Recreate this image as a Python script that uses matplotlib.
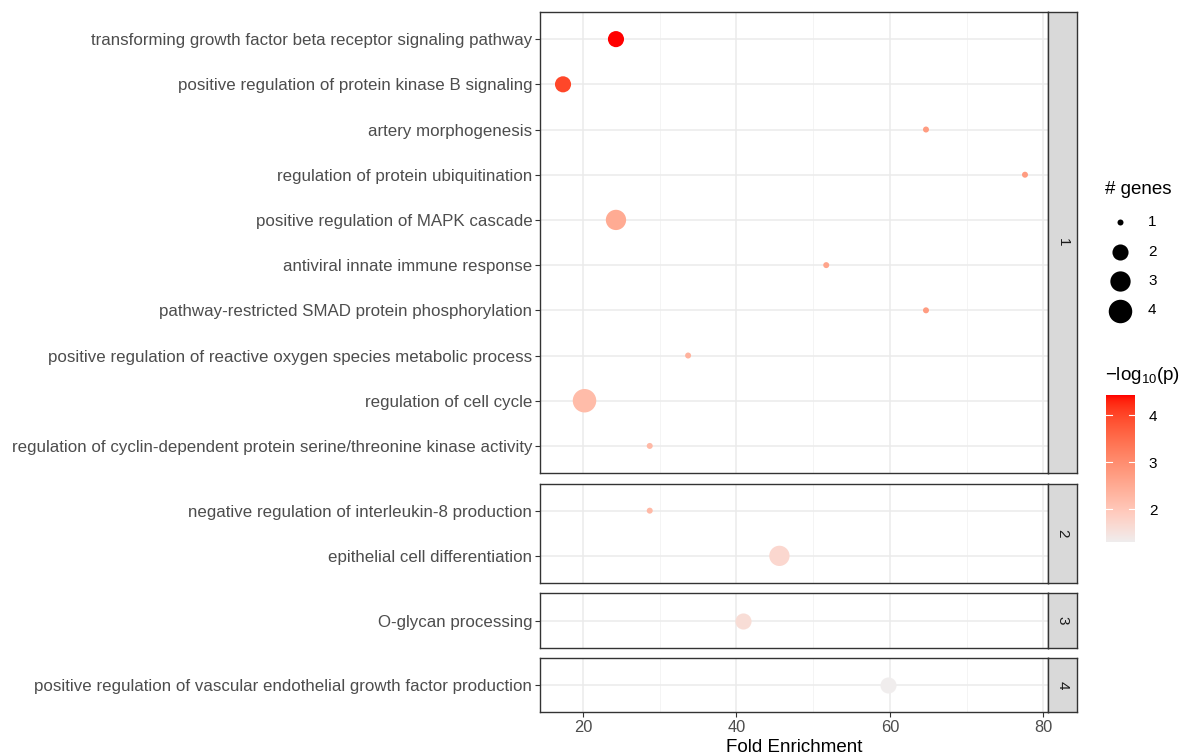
import numpy as np
import matplotlib
matplotlib.use("Agg")
import matplotlib.pyplot as plt

plt.rcParams['font.family'] = ['Liberation Sans', 'DejaVu Sans']
plt.rcParams['mathtext.fontset'] = 'custom'
plt.rcParams['mathtext.rm'] = 'Liberation Sans'
plt.rcParams['mathtext.it'] = 'Liberation Sans:italic'

# data (top to bottom inside each cluster)
terms = [
    "transforming growth factor beta receptor signaling pathway",
    "positive regulation of protein kinase B signaling",
    "artery morphogenesis",
    "regulation of protein ubiquitination",
    "positive regulation of MAPK cascade",
    "antiviral innate immune response",
    "pathway-restricted SMAD protein phosphorylation",
    "positive regulation of reactive oxygen species metabolic process",
    "regulation of cell cycle",
    "regulation of cyclin-dependent protein serine/threonine kinase activity",
    "negative regulation of interleukin-8 production",
    "epithelial cell differentiation",
    "O-glycan processing",
    "positive regulation of vascular endothelial growth factor production",
]
cluster = [1, 1, 1, 1, 1, 1, 1, 1, 1, 1, 2, 2, 3, 4]
fold_enrichment = [24.3, 17.4, 64.7, 77.6, 24.3, 51.7, 64.7, 33.7, 20.2, 28.7, 28.7, 45.6, 40.8, 59.7]
n_genes = [2, 2, 1, 1, 3, 1, 1, 1, 4, 1, 1, 3, 2, 2]
neg_log10_p = [4.43, 4.0, 2.75, 2.75, 2.5, 2.6, 2.75, 2.35, 2.2, 2.25, 2.25, 1.7, 1.6, 1.3]

size_breaks = [1, 2, 3, 4]
color_ticks = [2, 3, 4]
x_ticks = [20, 40, 60, 80]
x_minor = [30, 50, 70]

W, H = 1195, 756


# ggplot-like gradient: interpolate in CIELAB between low and high
def srgb_to_lab(rgb):
    c = np.asarray(rgb, float)
    lin = np.where(c <= 0.04045, c / 12.92, ((c + 0.055) / 1.055) ** 2.4)
    M = np.array([[0.4124, 0.3576, 0.1805], [0.2126, 0.7152, 0.0722], [0.0193, 0.1192, 0.9505]])
    xyz = M @ lin / np.array([0.95047, 1.0, 1.08883])
    f = np.where(xyz > 0.008856, np.cbrt(xyz), 7.787 * xyz + 16 / 116)
    return np.array([116 * f[1] - 16, 500 * (f[0] - f[1]), 200 * (f[1] - f[2])])


def lab_to_srgb(lab):
    L, a, b = lab
    fy = (L + 16) / 116
    fx = fy + a / 500
    fz = fy - b / 200
    f = np.array([fx, fy, fz])
    xyz = np.where(f ** 3 > 0.008856, f ** 3, (f - 16 / 116) / 7.787) * np.array([0.95047, 1.0, 1.08883])
    Minv = np.array([[3.2406, -1.5372, -0.4986], [-0.9689, 1.8758, 0.0415], [0.0557, -0.2040, 1.0570]])
    lin = Minv @ xyz
    c = np.where(lin <= 0.0031308, 12.92 * lin, 1.055 * np.clip(lin, 0, None) ** (1 / 2.4) - 0.055)
    return np.clip(c, 0, 1)


low_lab = srgb_to_lab([0.94, 0.93, 0.93])
high_lab = srgb_to_lab([1.0, 0.0, 0.0])
vmin, vmax = min(neg_log10_p), max(neg_log10_p)


def pcolor(v):
    t = (v - vmin) / (vmax - vmin)
    return lab_to_srgb(low_lab + t * (high_lab - low_lab))


def dot_area(n):
    # area scale like scale_size(range): diameter in px, then points^2
    d = 6 + np.sqrt((n - 1) / 3) * (23.5 - 6)
    return (d * 72 / 100) ** 2


def rect(x0, y0, x1, y1):
    return [x0 / W, 1 - y1 / H, (x1 - x0) / W, (y1 - y0) / H]


fig = plt.figure(figsize=(W / 100, H / 100), dpi=100)

unit = 45.2
gap = 10.5
px_left, px_right = 540, 1048
strip_w = 29
xlim = (14.4, 80.6)

terms = np.array(terms)
cluster = np.array(cluster)
fold_enrichment = np.array(fold_enrichment)
n_genes = np.array(n_genes)
neg_log10_p = np.array(neg_log10_p)

top = 12.0
clusters = sorted(set(cluster))
for k, cl in enumerate(clusters):
    idx = np.where(cluster == cl)[0]
    n = len(idx)
    h = (n - 1 + 1.2) * unit
    ax = fig.add_axes(rect(px_left, top, px_right, top + h))
    ypos = np.arange(n)[::-1]
    for g in x_ticks:
        ax.axvline(g, color="#EBEBEB", lw=1.1, zorder=0)
    for g in x_minor:
        ax.axvline(g, color="#F2F2F2", lw=0.6, zorder=0)
    for y in ypos:
        ax.axhline(y, color="#EBEBEB", lw=1.1, zorder=0)
    ax.scatter(fold_enrichment[idx], ypos,
               s=[dot_area(v) for v in n_genes[idx]],
               c=[pcolor(v) for v in neg_log10_p[idx]],
               linewidths=0, zorder=3)
    ax.set_xlim(*xlim)
    ax.set_ylim(-0.6, n - 1 + 0.6)
    ax.set_yticks(ypos)
    ax.set_yticklabels(terms[idx], fontsize=12.2, color="#4D4D4D")
    ax.tick_params(axis="y", length=3.5, width=0.8, color="#333333", pad=2)
    ax.set_xticks(x_ticks)
    if k == len(clusters) - 1:
        ax.set_xticklabels([str(t) for t in x_ticks], fontsize=11.8, color="#4D4D4D")
        ax.tick_params(axis="x", length=3.5, width=0.8, color="#333333", pad=2)
        ax.set_xlabel("Fold Enrichment", fontsize=13.5, color="black", labelpad=3)
    else:
        ax.tick_params(axis="x", length=0, labelbottom=False)
    for sp in ax.spines.values():
        sp.set_color("#333333")
        sp.set_linewidth(1.0)

    # facet strip on the right
    sax = fig.add_axes(rect(px_right, top, px_right + strip_w, top + h))
    sax.set_facecolor("#D9D9D9")
    sax.set_xticks([])
    sax.set_yticks([])
    for sp in sax.spines.values():
        sp.set_color("#333333")
        sp.set_linewidth(1.0)
    sax.text(0.5, 0.5, str(cl), rotation=-90, ha="center", va="center",
             fontsize=11, color="#1A1A1A", transform=sax.transAxes)

    top += h + gap

# size legend
fig.text(1105 / W, 1 - 190 / H, "# genes", fontsize=13.5, va="center", ha="left")
lax = fig.add_axes(rect(1100, 205, 1180, 325))
lax.set_xlim(0, 80)
lax.set_ylim(325, 205)
lax.axis("off")
for i, v in enumerate(size_breaks):
    yy = 222 + i * 29.5
    lax.scatter([20], [yy], s=dot_area(v), color="black", linewidths=0)
    lax.text(48, yy, str(v), fontsize=11, va="center", ha="left")

# colour bar
fig.text(1105 / W, 1 - 375 / H, r"$-\mathrm{log}_{10}(\mathrm{p})$", fontsize=13.5,
         va="center", ha="left")
cax = fig.add_axes(rect(1106, 395, 1135, 542))
grad = np.linspace(vmin, vmax, 200)
img = np.array([pcolor(v) for v in grad])[:, None, :]
cax.imshow(img, origin="lower", aspect="auto", extent=[0, 1, vmin, vmax])
cax.set_xlim(0, 1)
cax.set_ylim(vmin, vmax)
for t in color_ticks:
    cax.plot([0, 0.2], [t, t], color="white", lw=0.8)
    cax.plot([0.8, 1], [t, t], color="white", lw=0.8)
cax.set_xticks([])
cax.yaxis.tick_right()
cax.set_yticks(color_ticks)
cax.set_yticklabels([str(t) for t in color_ticks], fontsize=11)
cax.tick_params(axis="y", length=0, pad=10)
for sp in cax.spines.values():
    sp.set_visible(False)

fig.savefig("out.png", dpi=100)
